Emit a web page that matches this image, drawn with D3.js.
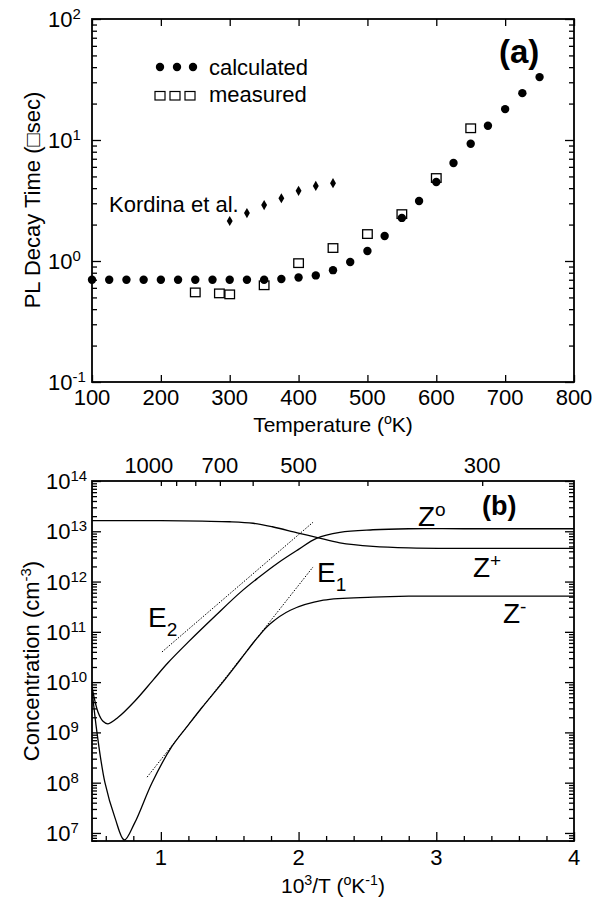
<!DOCTYPE html>
<html>
<head>
<meta charset="utf-8">
<script src="https://cdn.jsdelivr.net/npm/d3@7"></script>
<style>
  body { margin: 0; background: #fff; }
  svg { font-family: "Liberation Sans", Arial, Helvetica, sans-serif; }
  .tick line { stroke: #000; }
</style>
</head>
<body>
<div id="chart"></div>
<script>
// panel (a): PL decay time vs temperature
const calcT = [100, 125, 150, 175, 200, 225, 250, 275, 300, 325, 350, 375, 400, 425,
  450, 475, 500, 525, 550, 575, 600, 625, 650, 675, 700, 725, 750];
const calcTau = [0.70, 0.70, 0.70, 0.70, 0.70, 0.70, 0.70, 0.70, 0.70, 0.70, 0.70, 0.71, 0.73, 0.76,
  0.84, 0.98, 1.21, 1.61, 2.27, 3.13, 4.5, 6.45, 9.3, 13.1, 18.0, 24.4, 33.1];
const measT = [250, 285, 300, 350, 400, 450, 500, 550, 600, 650];
const measTau = [0.55, 0.54, 0.53, 0.63, 0.96, 1.28, 1.67, 2.44, 4.85, 12.5];
const kordT = [300, 325, 350, 375, 400, 425, 450];
const kordTau = [2.14, 2.49, 2.9, 3.3, 3.8, 4.17, 4.4];
const tempTicks = [100, 200, 300, 400, 500, 600, 700, 800];

// panel (b): concentrations vs 1000/T, values are log10(cm^-3)
const zPlusX = [0.5, 1.0, 1.3, 1.5, 1.67, 1.81, 1.99, 2.13, 2.3, 2.54, 2.8, 3.2, 4.0];
const zPlusLog = [13.21, 13.21, 13.2, 13.19, 13.16, 13.09, 12.97, 12.88, 12.77, 12.7, 12.67, 12.66, 12.66];
const zZeroX = [0.5, 0.544, 0.58, 0.616, 0.69, 0.81, 0.94, 1.05, 1.2, 1.4, 1.575, 1.7, 1.85, 2.0, 2.13, 2.3, 2.54, 2.8, 3.2, 4.0];
const zZeroLog = [9.9, 9.4, 9.22, 9.17, 9.3, 9.62, 10.03, 10.38, 10.8, 11.33, 11.78, 12.06, 12.37, 12.64, 12.86, 12.98, 13.03, 13.05, 13.05, 13.05];
const zMinusX = [0.5, 0.536, 0.594, 0.667, 0.735, 0.81, 0.936, 1.08, 1.2, 1.3, 1.45, 1.575, 1.7, 1.79, 1.94, 2.18, 2.54, 2.8, 3.2, 4.0];
const zMinusLog = [9.85, 9.0, 8.0, 7.3, 6.86, 7.2, 8.0, 8.72, 9.15, 9.5, 10.0, 10.44, 10.88, 11.15, 11.43, 11.63, 11.69, 11.71, 11.71, 11.71];
const e1Line = [[0.90, 8.11], [2.105, 12.29]];
const e2Line = [[1.008, 10.60], [2.105, 13.18]];
const invTicks = [1, 2, 3, 4];
const invMinor = [0.6, 0.8, 1.2, 1.4, 1.6, 1.8, 2.2, 2.4, 2.6, 2.8, 3.2, 3.4, 3.6, 3.8];
const topTemps = [1000, 900, 800, 700, 600, 500, 400, 300];
const topLabels = [1000, 700, 500, 300];

const W = 604, H = 902;
const svg = d3.select('#chart').append('svg').attr('width', W).attr('height', H);

// text with sup/sub parts
function rich(sel, x, y, parts, size, anchor, rot) {
  const t = sel.append('text').attr('x', x).attr('y', y)
    .attr('font-size', size).attr('text-anchor', anchor || 'start');
  if (rot) t.attr('transform', `rotate(${rot},${x},${y})`);
  let shift = 0;
  parts.forEach((p) => {
    const str = Array.isArray(p) ? p[0] : p;
    const kind = Array.isArray(p) ? p[1] : null;
    const target = kind === 'sup' ? -0.36 * size : kind === 'sub' ? 0.32 * size : 0;
    const ts = t.append('tspan').text(str).attr('dy', target - shift);
    if (kind) ts.attr('font-size', size * 0.68);
    shift = target;
  });
  return t;
}

function isDecade(v) {
  return Math.abs(Math.log10(v) - Math.round(Math.log10(v))) < 1e-6;
}

function ticksOnly(g, axis) {
  g.call(axis);
  g.select('.domain').remove();
  g.selectAll('.tick line').attr('stroke-width', 1.3);
}

// ---------- panel (a) ----------
const xA = d3.scaleLinear().domain([100, 800]).range([92, 574]);
const yA = d3.scaleLog().domain([0.1, 100]).range([382, 19]);
const gA = svg.append('g');

const yAll = yA.ticks();
const yMajor = yAll.filter(isDecade);
const yMinor = yAll.filter((v) => !isDecade(v));

ticksOnly(gA.append('g').attr('transform', 'translate(0,382)'),
  d3.axisBottom(xA).tickValues(tempTicks).tickSize(-7).tickFormat(''));
ticksOnly(gA.append('g').attr('transform', 'translate(0,19)'),
  d3.axisTop(xA).tickValues(tempTicks).tickSize(-7).tickFormat(''));
ticksOnly(gA.append('g').attr('transform', 'translate(92,0)'),
  d3.axisLeft(yA).tickValues(yMajor).tickSize(-9).tickFormat(''));
ticksOnly(gA.append('g').attr('transform', 'translate(92,0)'),
  d3.axisLeft(yA).tickValues(yMinor).tickSize(-5).tickFormat(''));
ticksOnly(gA.append('g').attr('transform', 'translate(574,0)'),
  d3.axisRight(yA).tickValues(yMajor).tickSize(-9).tickFormat(''));
ticksOnly(gA.append('g').attr('transform', 'translate(574,0)'),
  d3.axisRight(yA).tickValues(yMinor).tickSize(-5).tickFormat(''));

gA.append('rect').attr('x', 92).attr('y', 19).attr('width', 482).attr('height', 363)
  .attr('fill', 'none').attr('stroke', '#000').attr('stroke-width', 1.8);

tempTicks.forEach((v) => {
  gA.append('text').attr('x', xA(v)).attr('y', 405).attr('font-size', 22)
    .attr('text-anchor', 'middle').text(v);
});
yMajor.forEach((v) => {
  rich(gA, 48, yA(v) + 8, ['10', [String(Math.round(Math.log10(v))), 'sup']], 22);
});

rich(gA, 333, 432, ['Temperature (', ['o', 'sup'], 'K)'], 21, 'middle');
rich(gA, 40, 200, ['PL Decay Time (\u25A1sec)'], 22, 'middle', -90);

gA.selectAll('.calc').data(calcT).enter().append('circle')
  .attr('cx', (d) => xA(d)).attr('cy', (d, i) => yA(calcTau[i])).attr('r', 4.2).attr('fill', '#000');
gA.selectAll('.meas').data(measT).enter().append('rect')
  .attr('x', (d) => xA(d) - 4.8).attr('y', (d, i) => yA(measTau[i]) - 4.3)
  .attr('width', 9.6).attr('height', 8.6).attr('fill', 'none').attr('stroke', '#000').attr('stroke-width', 1.3);
const diamond = d3.symbol().type(d3.symbolDiamond).size(30);
gA.selectAll('.kord').data(kordT).enter().append('path')
  .attr('d', diamond).attr('fill', '#000')
  .attr('transform', (d, i) => `translate(${xA(d)},${yA(kordTau[i])})`);

// legend
[160, 177, 193].forEach((x) => {
  gA.append('circle').attr('cx', x).attr('cy', 67).attr('r', 4.2).attr('fill', '#000');
});
[160, 175, 190].forEach((x) => {
  gA.append('rect').attr('x', x - 5).attr('y', 91.5).attr('width', 10).attr('height', 8.5)
    .attr('fill', 'none').attr('stroke', '#000').attr('stroke-width', 1.2);
});
gA.append('text').attr('x', 209).attr('y', 75).attr('font-size', 22).text('calculated');
gA.append('text').attr('x', 209).attr('y', 102).attr('font-size', 22).text('measured');
gA.append('text').attr('x', 109).attr('y', 212).attr('font-size', 22).text('Kordina et al.');
gA.append('text').attr('x', 499).attr('y', 63).attr('font-size', 33).attr('font-weight', 'bold').text('(a)');

// ---------- panel (b) ----------
const xB = d3.scaleLinear().domain([0.5, 4]).range([92, 574]);
const yB = d3.scaleLog().domain([Math.pow(10, 6.84), 1e14]).range([841, 481]);
const gB = svg.append('g');

const yBAll = d3.scaleLog().domain([1e6, 1e14]).ticks().filter((v) => v >= Math.pow(10, 6.84));
const yBMajor = yBAll.filter(isDecade);
const yBMinor = yBAll.filter((v) => !isDecade(v));

ticksOnly(gB.append('g').attr('transform', 'translate(0,841)'),
  d3.axisBottom(xB).tickValues(invTicks).tickSize(-9).tickFormat(''));
ticksOnly(gB.append('g').attr('transform', 'translate(0,841)'),
  d3.axisBottom(xB).tickValues(invMinor).tickSize(-5).tickFormat(''));
ticksOnly(gB.append('g').attr('transform', 'translate(0,481)'),
  d3.axisTop(xB).tickValues(topTemps.map((t) => 1000 / t)).tickSize(-5).tickFormat(''));
ticksOnly(gB.append('g').attr('transform', 'translate(92,0)'),
  d3.axisLeft(yB).tickValues(yBMajor).tickSize(-9).tickFormat(''));
ticksOnly(gB.append('g').attr('transform', 'translate(92,0)'),
  d3.axisLeft(yB).tickValues(yBMinor).tickSize(-5).tickFormat(''));
ticksOnly(gB.append('g').attr('transform', 'translate(574,0)'),
  d3.axisRight(yB).tickValues(yBMajor).tickSize(-9).tickFormat(''));
ticksOnly(gB.append('g').attr('transform', 'translate(574,0)'),
  d3.axisRight(yB).tickValues(yBMinor).tickSize(-5).tickFormat(''));

gB.append('rect').attr('x', 92).attr('y', 481).attr('width', 482).attr('height', 360)
  .attr('fill', 'none').attr('stroke', '#000').attr('stroke-width', 1.8);

invTicks.forEach((v) => {
  gB.append('text').attr('x', xB(v)).attr('y', 865).attr('font-size', 22)
    .attr('text-anchor', 'middle').text(v);
});
topLabels.forEach((t, i) => {
  gB.append('text').attr('x', xB(1000 / t) - (i === 0 ? 12 : 0)).attr('y', 473).attr('font-size', 22)
    .attr('text-anchor', 'middle').text(t);
});
yBMajor.forEach((v) => {
  rich(gB, 46, yB(v) + 8, ['10', [String(Math.round(Math.log10(v))), 'sup']], 22);
});

rich(gB, 333, 893, ['10', ['3', 'sup'], '/T (', ['o', 'sup'], 'K', ['-1', 'sup'], ')'], 21, 'middle');
rich(gB, 39, 661, ['Concentration (cm', ['-3', 'sup'], ')'], 22, 'middle', -90);

const lineB = d3.line().x((d) => xB(d[0])).y((d) => yB(Math.pow(10, d[1]))).curve(d3.curveCatmullRom.alpha(0.5));
svg.append('clipPath').attr('id', 'clipB').append('rect')
  .attr('x', 92).attr('y', 481).attr('width', 482).attr('height', 360);
const plot = gB.append('g').attr('clip-path', 'url(#clipB)');

[[zPlusX, zPlusLog], [zZeroX, zZeroLog], [zMinusX, zMinusLog]].forEach(([xs, ys]) => {
  plot.append('path').datum(xs.map((x, i) => [x, ys[i]])).attr('d', lineB)
    .attr('fill', 'none').attr('stroke', '#000').attr('stroke-width', 1.3);
});
const segLine = d3.line().x((d) => xB(d[0])).y((d) => yB(Math.pow(10, d[1])));
[e1Line, e2Line].forEach((seg) => {
  plot.append('path').datum(seg).attr('d', segLine)
    .attr('fill', 'none').attr('stroke', '#000').attr('stroke-width', 1).attr('stroke-dasharray', '1.5,1.5');
});

rich(gB, 418, 526, ['Z', ['o', 'sup']], 28);
rich(gB, 473, 577, ['Z', ['+', 'sup']], 28);
rich(gB, 503, 623, ['Z', ['-', 'sup']], 28);
rich(gB, 317, 582, ['E', ['1', 'sub']], 28);
rich(gB, 148, 627, ['E', ['2', 'sub']], 28);
gB.append('text').attr('x', 482).attr('y', 515).attr('font-size', 27).attr('font-weight', 'bold').text('(b)');
</script>
</body>
</html>
